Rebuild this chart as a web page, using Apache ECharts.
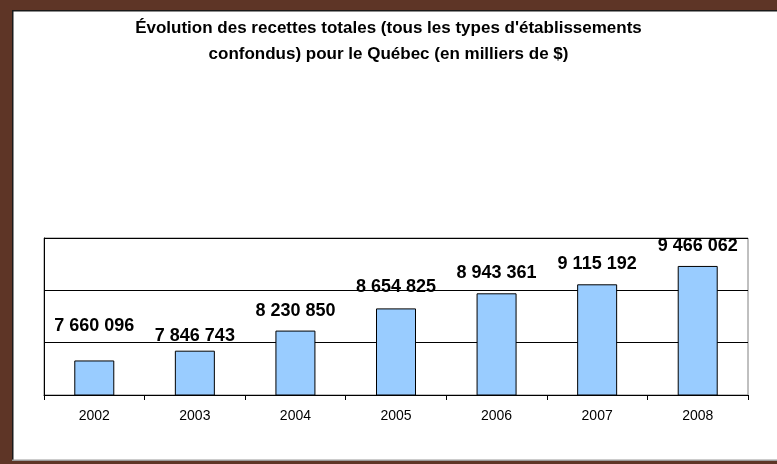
<!DOCTYPE html>
<html>

<head>
  <meta charset="UTF-8">
  <title>Évolution des recettes totales</title>
  <script src="https://cdn.jsdelivr.net/npm/echarts@6.0.0/dist/echarts.min.js"></script>
  <style>
    html, body {
      margin: 0;
      padding: 0;
      background: #fff;
    }
    #chart {
      width: 777px;
      height: 464px;
    }
  </style>
</head>

<body>
  <div id="chart"></div>
  <script>
    // données (en milliers de $)
    const years = ['2002', '2003', '2004', '2005', '2006', '2007', '2008'];
    const recettes = [7660096, 7846743, 8230850, 8654825, 8943361, 9115192, 9466062];

    // distance des étiquettes au-dessus des barres (déplacées à la main dans l'original)
    const labelGap = [25, 6, 11, 12, 11, 11, 11];

    // format "7 660 096"
    function fmt(v) {
      return String(v).replace(/\B(?=(\d{3})+(?!\d))/g, ' ');
    }

    const brown = '#5e3526';

    const chart = echarts.init(document.getElementById('chart'));
    chart.setOption({
      animation: false,
      textStyle: { fontFamily: 'Arial, "Liberation Sans", sans-serif' },
      title: {
        text: "Évolution des recettes totales (tous les types d'établissements\nconfondus) pour le Québec (en milliers de $)",
        left: 'center',
        top: 10,
        textStyle: {
          fontSize: 17,
          fontWeight: 'bold',
          color: '#000',
          lineHeight: 26
        }
      },
      // cadre brun
      graphic: [
        { type: 'rect', shape: { x: 0, y: 0, width: 777, height: 10 }, style: { fill: brown }, silent: true },
        { type: 'rect', shape: { x: 0, y: 0, width: 12, height: 464 }, style: { fill: brown }, silent: true },
        { type: 'rect', shape: { x: 0, y: 461, width: 777, height: 3 }, style: { fill: brown }, silent: true },
        { type: 'rect', shape: { x: 12, y: 10, width: 765, height: 1.5 }, style: { fill: '#1a1a1a' }, silent: true },
        { type: 'rect', shape: { x: 12, y: 10, width: 1.5, height: 451 }, style: { fill: '#1a1a1a' }, silent: true },
        { type: 'rect', shape: { x: 12, y: 459.5, width: 765, height: 1.5 }, style: { fill: '#9a9a9a' }, silent: true }
      ],
      grid: {
        left: 44,
        right: 29,
        top: 238,
        bottom: 69,
        show: true,
        borderColor: '#808080',
        borderWidth: 1
      },
      xAxis: {
        type: 'category',
        data: years,
        axisLine: { lineStyle: { color: '#000', width: 1 } },
        axisTick: { show: true, length: 5, lineStyle: { color: '#000' } },
        axisLabel: { color: '#000', fontSize: 14, margin: 14 }
      },
      yAxis: {
        type: 'value',
        min: 7000000,
        max: 10000000,
        interval: 1000000,
        axisLine: { show: true, lineStyle: { color: '#000', width: 1 } },
        axisTick: { show: false },
        axisLabel: { show: false },
        splitLine: { show: true, lineStyle: { color: '#000', width: 1 } }
      },
      series: [{
        type: 'bar',
        barWidth: 40,
        data: recettes.map((v, i) => ({
          value: v,
          label: { distance: labelGap[i] }
        })),
        itemStyle: {
          color: '#99ccff',
          borderColor: '#000',
          borderWidth: 1
        },
        label: {
          show: true,
          position: 'top',
          color: '#000',
          fontSize: 18,
          fontWeight: 'bold',
          formatter: p => fmt(p.value)
        }
      }]
    });
  </script>
</body>

</html>
